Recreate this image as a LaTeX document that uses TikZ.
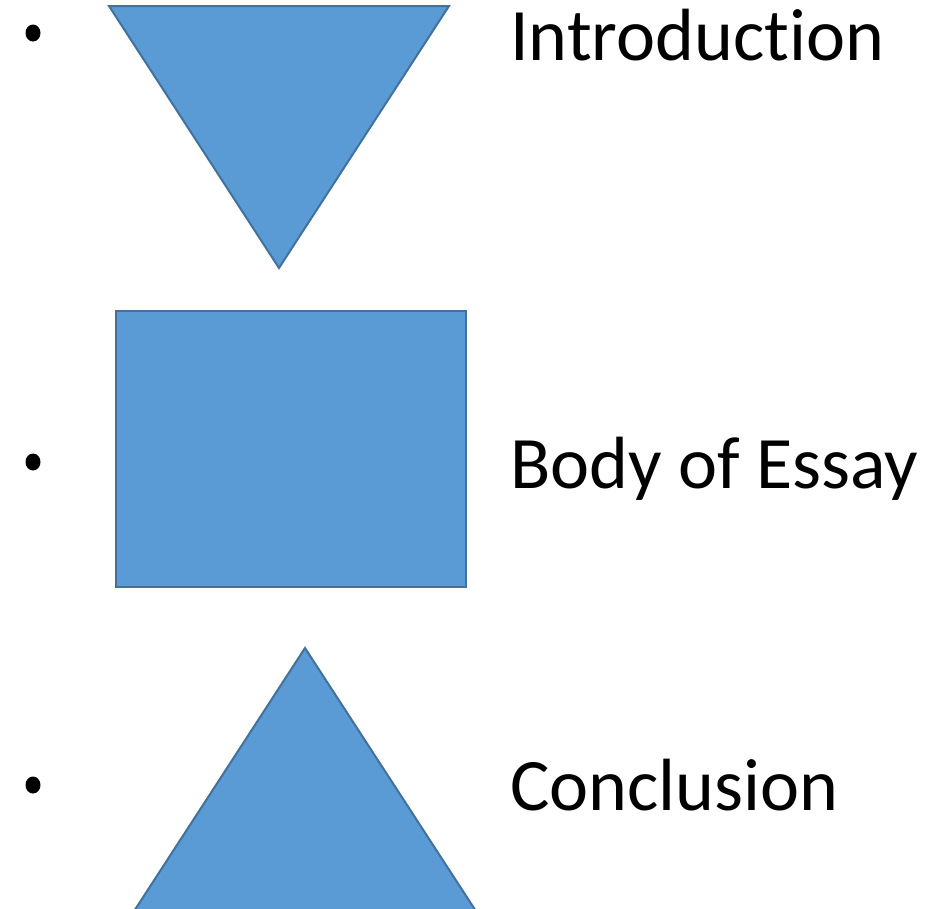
\documentclass[tikz,border=0pt]{standalone}
\usepackage{fontspec}
\usetikzlibrary{shapes.geometric}
\setmainfont[Ligatures={NoCommon}]{Carlito}
\definecolor{shapefill}{HTML}{5B9BD5}
\definecolor{shapeline}{HTML}{41719C}
\begin{document}
\begin{tikzpicture}[x=1pt,y=-1pt,
  shapestyle/.style={fill=shapefill,draw=shapeline,line width=2pt,line join=miter},
  label/.style={anchor=base west,inner sep=0pt,font=\fontsize{74}{80}\selectfont},
  bulletdot/.style={ellipse,fill=black,inner sep=0pt,minimum width=15pt,minimum height=17pt}]
\useasboundingbox (0,0) rectangle (933,908);
\begin{scope}
\clip (0,0) rectangle (933,908);
\draw[shapestyle] (109,6) -- (449,6) -- (279,268) -- cycle;
\draw[shapestyle] (116,311) rectangle (466,587);
\draw[shapestyle] (305,648) -- (485,925) -- (125,925) -- cycle;
\end{scope}
\node[bulletdot] (b1) at (33,33) {};
\node[bulletdot] (b2) at (33,462) {};
\node[bulletdot] (b3) at (33,785) {};
\node[label] (t1) at (510,60) {Introduction};
\node[label] (t2) at (510,488) {Body of Essay};
\node[label] (t3) at (510,810) {Conclusion};
\end{tikzpicture}
\end{document}
